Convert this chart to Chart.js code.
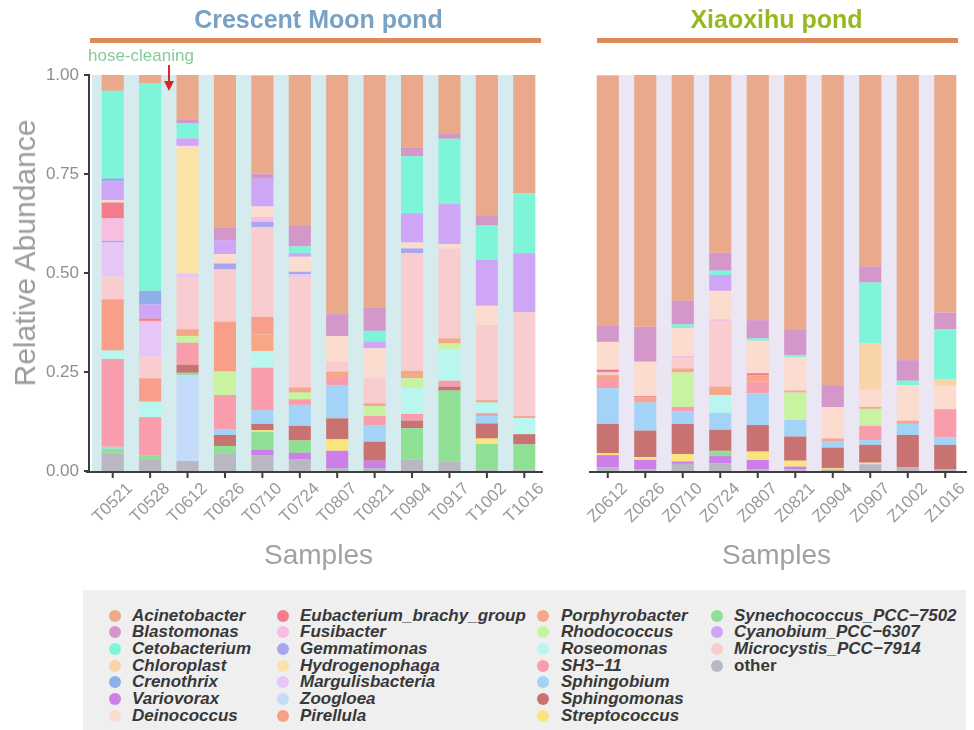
<!DOCTYPE html>
<html>
<head>
<meta charset="utf-8">
<title>Relative abundance - Crescent Moon pond / Xiaoxihu pond</title>
<script src="https://cdn.jsdelivr.net/npm/chart.js@4.4.1/dist/chart.umd.min.js"></script>
<style>
  body { margin: 0; background: #fff; font-family: "Liberation Sans", Arial, sans-serif; }
  #page { position: relative; width: 974px; height: 730px; overflow: hidden; }
  canvas { position: absolute; top: 0; }
  .pond { position: absolute; top: 5px; text-align: center; font-weight: bold; font-size: 25px; }
  .rule { position: absolute; top: 38px; height: 5px; background: #e0895c; }
  #hose { position: absolute; left: 88px; top: 46px; font-size: 17px; color: #88c99b; }
  #arrow { position: absolute; left: 163px; top: 64px; }
  #ytitle { position: absolute; left: 25px; top: 253px; transform: translate(-50%, -50%) rotate(-90deg);
            font-size: 30px; color: #9b9b9b; white-space: nowrap; }
  #legend { position: absolute; left: 83px; top: 590px; width: 883px; height: 140px; background: #efefef; }
  .key { position: absolute; width: 12px; height: 12px; border-radius: 50%; }
  .name { position: absolute; font-size: 17px; line-height: 18px; font-weight: bold; font-style: italic;
          color: #383838; white-space: nowrap; }
</style>
</head>
<body>
<div id="page">
  <canvas id="crescent" width="560" height="580" style="left:0"></canvas>
  <canvas id="xiaoxihu" width="414" height="580" style="left:560px"></canvas>

  <div class="pond" style="left:94px;width:449px;color:#78a1c4">Crescent Moon pond</div>
  <div class="pond" style="left:589px;width:375px;color:#98b820">Xiaoxihu pond</div>
  <div class="rule" style="left:90px;width:451px"></div>
  <div class="rule" style="left:597px;width:361px"></div>
  <div id="hose">hose-cleaning</div>
  <svg id="arrow" width="12" height="30">
    <line x1="6" y1="1" x2="6" y2="20" stroke="#d8262a" stroke-width="2"/>
    <polygon points="1,17 11,17 6,27" fill="#d8262a"/>
  </svg>
  <div id="ytitle">Relative Abundance</div>
  <div id="legend"></div>
</div>

<script>
// samples: first 12 are Crescent Moon pond, last 10 Xiaoxihu pond
var samples = ["T0521", "T0528", "T0612", "T0626", "T0710", "T0724", "T0807", "T0821", "T0904", "T0917", "T1002", "T1016",
               "Z0612", "Z0626", "Z0710", "Z0724", "Z0807", "Z0821", "Z0904", "Z0907", "Z1002", "Z1016"];
var yTicks = [0, 0.25, 0.5, 0.75, 1];

// relative abundance per genus, same order as samples
var acinetobacter    = [0.040,0.021,0.112,0.385,0.248,0.381,0.604,0.587,0.183,0.149,0.354,0.299, 0.631,0.636,0.571,0.449,0.619,0.644,0.783,0.484,0.720,0.600];
var blastomonas      = [0,0,0.010,0.032,0.013,0.052,0.055,0.059,0.022,0.012,0.026,0,             0.042,0.088,0.060,0.045,0.046,0.063,0.056,0.040,0.052,0.042];
var cetobacterium    = [0.221,0.524,0.038,0,0,0.017,0,0.027,0.144,0.165,0.087,0.151,             0,0,0.009,0.011,0.006,0.006,0,0.154,0.011,0.127];
var chloroplast      = [0,0,0,0,0,0,0,0,0,0,0,0,                                                  0,0,0,0,0,0,0,0.117,0,0.016];
var crenothrix       = [0.008,0.034,0,0,0,0,0,0,0,0,0,0,                                          0,0,0,0,0,0,0,0,0,0];
var variovorax       = [0,0,0,0,0.013,0.017,0.044,0.019,0,0,0,0,                                  0.031,0.024,0.006,0.019,0.024,0.007,0,0,0,0];
var deinococcus      = [0.006,0,0.006,0.024,0.027,0.038,0.065,0.076,0.015,0.011,0.048,0,          0.070,0.087,0.070,0.072,0.082,0.084,0.079,0.043,0.090,0.059];
var eubacterium      = [0.040,0.006,0,0,0,0,0,0,0,0,0,0,                                          0.006,0.003,0,0,0.005,0,0,0,0,0];
var fusibacter       = [0.057,0.008,0,0,0.012,0,0,0,0,0,0,0,                                      0,0,0.006,0.006,0,0,0,0,0,0];
var gemmatimonas     = [0.004,0,0,0.015,0.013,0.006,0,0,0.012,0,0,0,                              0,0,0,0,0,0,0,0,0,0];
var hydrogenophaga   = [0,0,0.316,0,0,0,0,0,0,0,0,0,                                              0,0,0,0,0,0,0,0,0,0];
var margulisbacteria = [0.086,0.082,0.010,0,0,0.008,0,0,0,0,0,0,                                  0,0,0,0,0,0,0,0,0,0];
var zoogloea         = [0,0,0.217,0,0,0,0,0,0,0,0,0,                                              0,0,0,0,0,0,0,0,0,0];
var pirellula        = [0.130,0.059,0,0.126,0.044,0,0,0,0,0,0,0,                                  0,0,0,0,0,0,0,0,0,0];
var porphyrobacter   = [0,0,0.017,0,0.042,0.013,0.014,0.007,0.019,0.013,0.006,0.005,              0.012,0.013,0.010,0.021,0.016,0.005,0.008,0.005,0.008,0];
var rhodococcus      = [0,0,0.017,0.059,0,0.017,0,0.025,0.025,0.015,0,0,                          0,0,0.087,0,0,0.069,0,0.043,0,0];
var roseomonas       = [0.021,0.039,0,0,0.042,0,0,0,0.065,0.079,0.027,0.041,                      0,0,0,0.045,0,0,0,0,0,0];
var sh311            = [0.222,0.096,0.056,0.087,0.108,0.014,0.020,0.023,0.017,0.015,0.007,0,      0.021,0,0.012,0,0.030,0,0,0.036,0,0.071];
var sphingobium      = [0.005,0,0,0.014,0.034,0.053,0.084,0.042,0,0,0.019,0,                      0.090,0.071,0.031,0.043,0.080,0.042,0.015,0.012,0.028,0.019];
var sphingomonas     = [0,0,0.020,0.028,0.016,0.037,0.053,0.048,0.019,0.010,0.038,0.026,          0.074,0.067,0.076,0.053,0.067,0.061,0.052,0.045,0.082,0.062];
var streptococcus    = [0,0,0,0,0.004,0,0.029,0,0,0,0.014,0,                                      0.005,0.007,0.019,0,0.021,0.015,0.003,0.004,0,0];
var synechococcus    = [0.013,0.012,0.006,0.020,0.046,0.031,0,0,0.079,0.179,0.064,0.064,          0,0,0,0.013,0,0,0,0,0,0];
var cyanobium        = [0.047,0.036,0.019,0.035,0.070,0.009,0,0.017,0.074,0.101,0.116,0.149,      0,0,0,0.040,0,0,0,0,0,0];
var microcystis      = [0.057,0.055,0.131,0.132,0.227,0.278,0.025,0.063,0.297,0.227,0.190,0.262,  0.008,0,0.026,0.164,0,0,0,0,0,0];
var other            = [0.043,0.028,0.025,0.043,0.040,0.029,0.007,0.007,0.029,0.024,0.004,0.003,  0.009,0.004,0.018,0.019,0.004,0.004,0.004,0.017,0.009,0.004];

// legend order (column by column) and colours
var genusNames = ["Acinetobacter", "Blastomonas", "Cetobacterium", "Chloroplast", "Crenothrix", "Variovorax", "Deinococcus",
                  "Eubacterium_brachy_group", "Fusibacter", "Gemmatimonas", "Hydrogenophaga", "Margulisbacteria", "Zoogloea", "Pirellula",
                  "Porphyrobacter", "Rhodococcus", "Roseomonas", "SH3\u221211", "Sphingobium", "Sphingomonas", "Streptococcus",
                  "Synechococcus_PCC\u22127502", "Cyanobium_PCC\u22126307", "Microcystis_PCC\u22127914", "other"];
var genusColors = ["#e9a98a", "#d497c9", "#7ef5d8", "#f9d3a9", "#8fb0e6", "#cd7fe9", "#fbdcce",
                   "#f47b8c", "#f9bde1", "#aaa5ef", "#fbe2a7", "#e6c6f6", "#c5dbfa", "#f89f89",
                   "#f5a788", "#c8f4a2", "#b8f6ef", "#f99cab", "#a3d3f6", "#c97272", "#fbe47c",
                   "#8fe094", "#cfa6f6", "#f9cdcf", "#b8b7c2"];
var genusValues = [acinetobacter, blastomonas, cetobacterium, chloroplast, crenothrix, variovorax, deinococcus,
                   eubacterium, fusibacter, gemmatimonas, hydrogenophaga, margulisbacteria, zoogloea, pirellula,
                   porphyrobacter, rhodococcus, roseomonas, sh311, sphingobium, sphingomonas, streptococcus,
                   synechococcus, cyanobium, microcystis, other];

// stacking order in the bars, top to bottom (alphabetical, other last)
var stackOrder = ["Acinetobacter", "Blastomonas", "Cetobacterium", "Chloroplast", "Crenothrix", "Cyanobium_PCC\u22126307",
                  "Deinococcus", "Eubacterium_brachy_group", "Fusibacter", "Gemmatimonas", "Hydrogenophaga", "Margulisbacteria",
                  "Microcystis_PCC\u22127914", "Pirellula", "Porphyrobacter", "Rhodococcus", "Roseomonas", "SH3\u221211",
                  "Sphingobium", "Sphingomonas", "Streptococcus", "Synechococcus_PCC\u22127502", "Variovorax", "Zoogloea", "other"];

Chart.defaults.font.family = "'Liberation Sans', Arial, sans-serif";

// panel background, axis lines, ticks and the 45 degree sample labels
var panelPlugin = {
  id: "panel",
  beforeDatasetsDraw: function (chart, args, opts) {
    var a = chart.chartArea, ctx = chart.ctx;
    ctx.save();
    ctx.fillStyle = opts.bg;
    ctx.fillRect(a.left + opts.bgLeft, a.top, a.right - a.left - opts.bgLeft - opts.bgRight, a.bottom - a.top);
    ctx.restore();
  },
  afterDraw: function (chart, args, opts) {
    var a = chart.chartArea, ctx = chart.ctx;
    var x = chart.scales.x, y = chart.scales.y;
    ctx.save();
    ctx.strokeStyle = "#3d3d3d";
    ctx.lineWidth = 2;
    ctx.beginPath();
    ctx.moveTo(a.left + opts.axisFrom, a.bottom + 1);
    ctx.lineTo(a.right + opts.axisTo, a.bottom + 1);
    chart.data.labels.forEach(function (lab, i) {
      var px = x.getPixelForTick(i);
      ctx.moveTo(px, a.bottom + 1);
      ctx.lineTo(px, a.bottom + 7);
    });
    if (opts.yAxis) {
      var lx = a.left - 5;
      ctx.moveTo(lx, a.top - 1);
      ctx.lineTo(lx, a.bottom + 2);
      yTicks.forEach(function (v) {
        var py = y.getPixelForValue(v);
        ctx.moveTo(lx, py);
        ctx.lineTo(lx - 5, py);
      });
    }
    ctx.stroke();

    ctx.fillStyle = "#999999";
    ctx.font = "17px 'Liberation Sans', Arial, sans-serif";
    ctx.textAlign = "center";
    ctx.textBaseline = "middle";
    chart.data.labels.forEach(function (lab, i) {
      ctx.save();
      ctx.translate(x.getPixelForTick(i), a.bottom + 32);
      ctx.rotate(-Math.PI / 4);
      ctx.fillText(lab, 0, 0);
      ctx.restore();
    });
    ctx.restore();
  }
};

function buildDatasets(from, to) {
  return stackOrder.slice().reverse().map(function (name) {
    var k = genusNames.indexOf(name);
    return {
      label: name,
      data: genusValues[k].slice(from, to),
      backgroundColor: genusColors[k],
      borderWidth: 0,
      barPercentage: 0.59,
      categoryPercentage: 1
    };
  });
}

function makeChart(id, from, to, showY, padding, panelOpts) {
  return new Chart(document.getElementById(id), {
    type: "bar",
    data: { labels: samples.slice(from, to), datasets: buildDatasets(from, to) },
    options: {
      responsive: false,
      animation: false,
      devicePixelRatio: 1,
      layout: { padding: padding },
      plugins: { legend: { display: false }, tooltip: { enabled: false }, panel: panelOpts },
      scales: {
        x: {
          stacked: true,
          grid: { display: false, drawTicks: false },
          border: { display: false },
          ticks: { display: false },
          title: { display: true, text: "Samples", color: "#a49ea6", font: { size: 28 }, padding: { top: 0, bottom: 7 } },
          afterFit: function (s) { s.height = 109; }
        },
        y: {
          stacked: true,
          display: showY,
          min: 0,
          max: 1,
          grid: { display: false, drawTicks: false },
          border: { display: false },
          ticks: {
            stepSize: 0.25,
            padding: 15,
            color: "#8e8e8e",
            font: { size: 17 },
            callback: function (v) { return Number(v).toFixed(2); }
          },
          afterFit: function (s) { s.width = showY ? 94 : 0; }
        }
      }
    },
    plugins: [panelPlugin]
  });
}

makeChart("crescent", 0, 12, true, { left: 0, right: 17, top: 75, bottom: 0 },
  { bg: "#d5ebee", bgLeft: -2, bgRight: 8, axisFrom: -8, axisTo: 0, yAxis: true });
makeChart("xiaoxihu", 12, 22, false, { left: 29, right: 10, top: 75, bottom: 0 },
  { bg: "#ebe6f4", bgLeft: 8, bgRight: 8, axisFrom: 0, axisTo: 3, yAxis: false });

// legend: 4 columns of 7 rows
var legend = document.getElementById("legend");
var keyX = [32, 200, 460, 634];
var textX = [49, 217, 478, 651];
genusNames.forEach(function (name, i) {
  var col = Math.floor(i / 7), row = i % 7;
  var cy = 25.7 + row * 16.67;
  var dot = document.createElement("div");
  dot.className = "key";
  dot.style.left = (keyX[col] - 6) + "px";
  dot.style.top = (cy - 6) + "px";
  dot.style.background = genusColors[i];
  legend.appendChild(dot);
  var txt = document.createElement("div");
  txt.className = "name";
  txt.textContent = name;
  txt.style.left = textX[col] + "px";
  txt.style.top = (cy - 9) + "px";
  if (name === "other") txt.style.fontStyle = "normal";
  legend.appendChild(txt);
});
</script>
</body>
</html>
